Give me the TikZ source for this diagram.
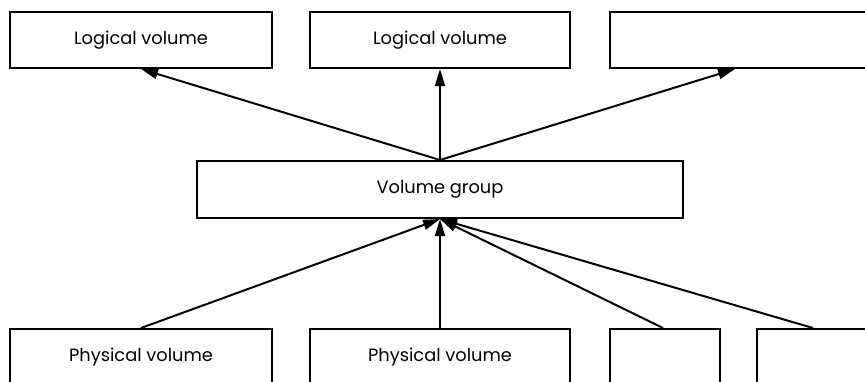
\documentclass[tikz,border=0pt]{standalone}
\usepackage{fontspec}
\setmainfont{Poppins}
\usetikzlibrary{arrows.meta}
\tikzstyle{vbox} = [draw, line width=2pt, fill=white, inner sep=0pt, font=\fontsize{17.8}{21}\selectfont]
\tikzstyle{link} = [line width=2pt, -{Triangle[length=17pt,width=10pt]}]

\begin{document}
\begin{tikzpicture}[x=1pt, y=-1pt]
      \useasboundingbox (0,0) rectangle (865,381);
      \clip (0,0) rectangle (865,381);
      % logical volumes
      \node[vbox, minimum width=262pt, minimum height=56pt] (lv1) at (141,40) {Logical volume};
      \node[vbox, minimum width=260pt, minimum height=56pt] (lv2) at (440,40) {Logical volume};
      \node[vbox, minimum width=262pt, minimum height=56pt] (lv3) at (741,40) {};
      % volume group
      \node[vbox, minimum width=486pt, minimum height=57pt] (vg) at (440,189.5) {Volume group};
      % physical volumes
      \node[vbox, minimum width=262pt, minimum height=56pt] (pv1) at (141,357) {Physical volume};
      \node[vbox, minimum width=260pt, minimum height=56pt] (pv2) at (440,357) {Physical volume};
      \node[vbox, minimum width=110pt, minimum height=56pt] (pv3) at (665,357) {};
      \node[vbox, minimum width=112pt, minimum height=56pt] (pv4) at (813,357) {};
      % arrows
      \draw[link] (vg.north) -- (lv1.south);
      \draw[link] (vg.north) -- (lv2.south);
      \draw[link] (vg.north) -- ([xshift=-6pt]lv3.south);
      \draw[link] (pv1.north) -- (vg.south);
      \draw[link] (pv2.north) -- (vg.south);
      \draw[link] ([xshift=-2pt]pv3.north) -- (vg.south);
      \draw[link] (pv4.north) -- (vg.south);
\end{tikzpicture}
\end{document}
